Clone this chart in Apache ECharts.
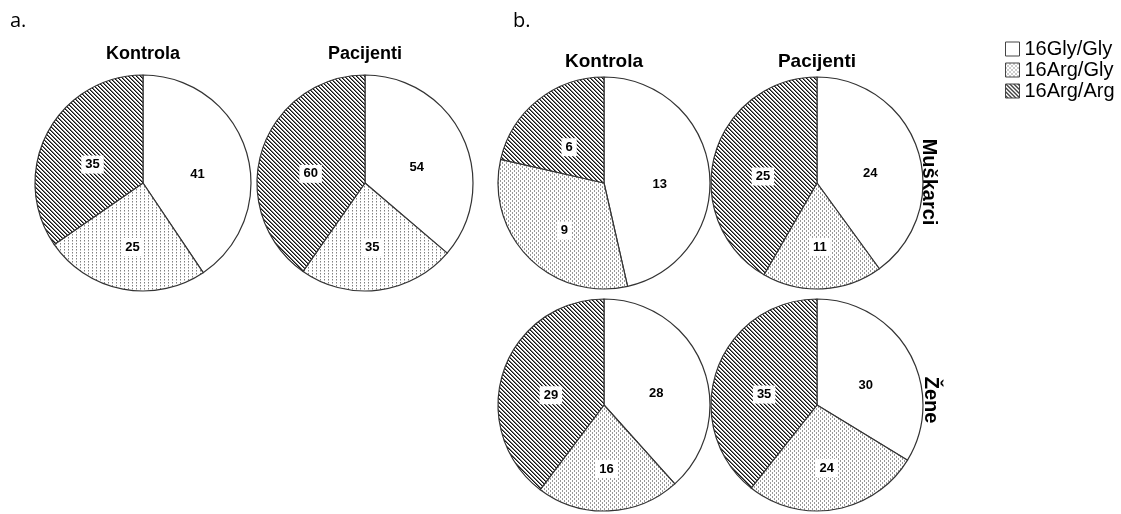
<!DOCTYPE html>
<html>
<head>
<meta charset="utf-8">
<script src="https://cdn.jsdelivr.net/npm/echarts@6/dist/echarts.min.js"></script>
<style>
  html, body { margin: 0; padding: 0; background: #fff; }
  #chart { width: 1121px; height: 514px; }
</style>
</head>
<body>
<div id="chart"></div>
<script>
// Genotype categories (clockwise from 12 o'clock)
const genotypes = ['16Gly/Gly', '16Arg/Gly', '16Arg/Arg'];

// a. all subjects
const aKontrola  = [41, 25, 35];
const aPacijenti = [54, 35, 60];

// b. split by sex
const bMuskarciKontrola  = [13, 9, 6];
const bMuskarciPacijenti = [24, 11, 25];
const bZeneKontrola      = [28, 16, 29];
const bZenePacijenti     = [30, 24, 35];

const groupTitles = ['Kontrola', 'Pacijenti'];
const sexLabels = ['Muškarci', 'Žene'];

const FONT = '"Liberation Sans", Arial, sans-serif';

// Fill patterns built on small canvases
function makeTile(w, h, pixels) {
  const c = document.createElement('canvas');
  c.width = w; c.height = h;
  const ctx = c.getContext('2d');
  ctx.fillStyle = '#fff';
  ctx.fillRect(0, 0, w, h);
  pixels.forEach(p => { ctx.fillStyle = p[2]; ctx.fillRect(p[0], p[1], 1, 1); });
  return { image: c, repeat: 'repeat' };
}
const hatch = makeTile(4, 4, [
  [0, 0, '#111'], [1, 1, '#111'], [2, 2, '#111'], [3, 3, '#111'],
  [1, 0, '#777'], [2, 1, '#777'], [3, 2, '#777'], [0, 3, '#777']
]);
const dotsSparse = makeTile(4, 3, [[0, 0, '#808080'], [0, 1, '#c0c0c0']]);
const dotsDense = makeTile(4, 4, [
  [0, 0, '#999'], [0, 1, '#999'], [2, 2, '#999'], [2, 3, '#999']
]);

function pie(values, cx, cy, r, dots) {
  const fills = ['#ffffff', dots, hatch];
  return {
    type: 'pie',
    center: [cx, cy],
    radius: r,
    startAngle: 90,
    clockwise: true,
    silent: true,
    data: genotypes.map((g, i) => ({ name: g, value: values[i], itemStyle: { color: fills[i] } })),
    itemStyle: { borderColor: '#333', borderWidth: 1.2 },
    label: {
      show: true,
      position: 'inside',
      formatter: '{c}',
      color: '#000',
      fontFamily: FONT,
      fontWeight: 'bold',
      fontSize: 13,
      backgroundColor: '#fff',
      padding: [3, 4, 2, 4],
      // label box hangs below its anchor point
      offset: [0, 8]
    },
    labelLine: { show: false },
    emphasis: { disabled: true }
  };
}

const rA = 108, rB = 106;
const series = [
  pie(bMuskarciKontrola, 604, 183, rB, dotsDense),
  pie(bMuskarciPacijenti, 817, 183, rB, dotsDense),
  pie(bZeneKontrola, 604, 405, rB, dotsDense),
  pie(bZenePacijenti, 817, 405, rB, dotsDense),
  pie(aKontrola, 143, 183, rA, dotsSparse),
  pie(aPacijenti, 365, 183, rA, dotsSparse)
];

function headText(text, x, y, size) {
  return {
    type: 'text', x: x, y: y,
    style: { text: text, font: 'bold ' + size + 'px ' + FONT, fill: '#000', align: 'center', verticalAlign: 'middle' }
  };
}

const option = {
  animation: false,
  backgroundColor: '#fff',
  legend: {
    data: genotypes,
    orient: 'vertical',
    left: 1000,
    top: 34,
    itemWidth: 14,
    itemHeight: 14,
    itemGap: 1,
    icon: 'rect',
    selectedMode: false,
    itemStyle: { borderColor: '#444', borderWidth: 1 },
    textStyle: { fontFamily: FONT, fontSize: 20, lineHeight: 20, color: '#000' }
  },
  graphic: [
    { type: 'text', x: 10, y: 21, style: { text: 'a.', font: '20px "Open Sans", sans-serif', fill: '#000', verticalAlign: 'middle' } },
    { type: 'text', x: 513, y: 21, style: { text: 'b.', font: '20px "Open Sans", sans-serif', fill: '#000', verticalAlign: 'middle' } },
    headText(groupTitles[0], 143, 54, 18),
    headText(groupTitles[1], 365, 54, 18),
    headText(groupTitles[0], 604, 62, 19),
    headText(groupTitles[1], 817, 62, 19),
    Object.assign(headText(sexLabels[0], 929, 182, 20), { rotation: -Math.PI / 2 }),
    Object.assign(headText(sexLabels[1], 931, 400, 20), { rotation: -Math.PI / 2 })
  ],
  series: series
};

const chart = echarts.init(document.getElementById('chart'), null, { renderer: 'canvas' });
chart.setOption(option);
</script>
</body>
</html>
